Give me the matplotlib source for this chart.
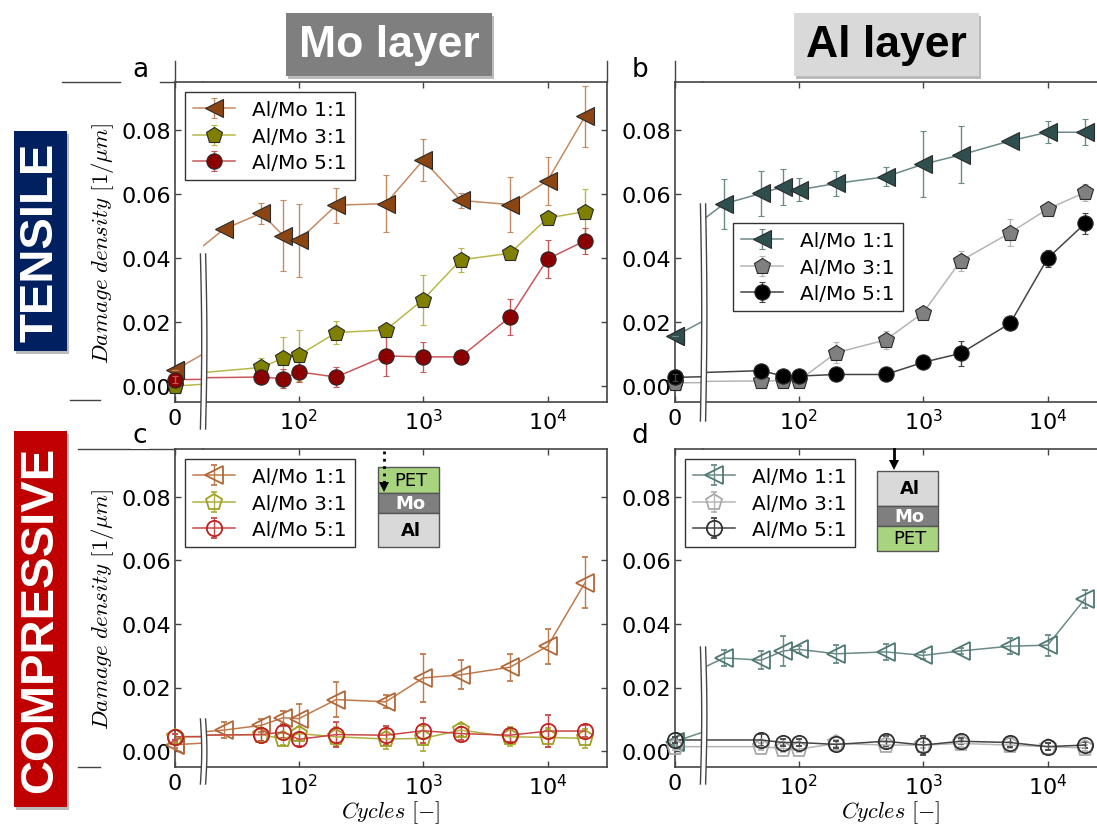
import numpy as np
import matplotlib.pyplot as plt
from matplotlib.patches import Rectangle, Polygon
from matplotlib.lines import Line2D
from matplotlib.ticker import NullLocator, FixedLocator, FixedFormatter

W, H = 1097, 828

# cycle counts (0 = as deposited); 3:1 and 5:1 have no 25-cycle point
cyc_11 = np.array([0, 25, 50, 75, 100, 200, 500, 1000, 2000, 5000, 10000, 20000])
cyc_xx = np.array([0, 50, 75, 100, 200, 500, 1000, 2000, 5000, 10000, 20000])
labels = ['Al/Mo 1:1', 'Al/Mo 3:1', 'Al/Mo 5:1']

# a) Mo layer, tensile
mo_ten_11 = [0.005, 0.049, 0.054, 0.047, 0.0455, 0.0565, 0.057, 0.0706, 0.058, 0.0567, 0.0642, 0.0843]
mo_ten_11_err = [0.0, 0.0, 0.0033, 0.011, 0.0115, 0.0055, 0.009, 0.0065, 0.0023, 0.0087, 0.0075, 0.0096]
mo_ten_31 = [0.0, 0.0058, 0.0087, 0.0096, 0.0167, 0.0175, 0.027, 0.0394, 0.0415, 0.0525, 0.0545]
mo_ten_31_err = [0.0, 0.003, 0.0066, 0.008, 0.0037, 0.002, 0.0078, 0.0037, 0.001, 0.002, 0.007]
mo_ten_51 = [0.002, 0.0028, 0.0023, 0.0044, 0.0028, 0.0094, 0.0091, 0.0091, 0.0216, 0.0397, 0.0454]
mo_ten_51_err = [0.001, 0.002, 0.003, 0.003, 0.003, 0.0063, 0.0047, 0.0015, 0.0056, 0.006, 0.004]

# b) Al layer, tensile
al_ten_11 = [0.0156, 0.0569, 0.0602, 0.0623, 0.0613, 0.0633, 0.0654, 0.0693, 0.0722, 0.0766, 0.0793, 0.0793]
al_ten_11_err = [0.0, 0.0079, 0.0071, 0.0056, 0.0036, 0.0039, 0.0029, 0.0103, 0.0089, 0.001, 0.0034, 0.0041]
al_ten_31 = [0.001, 0.0016, 0.0016, 0.0017, 0.0104, 0.0144, 0.0229, 0.0391, 0.0479, 0.0553, 0.0605]
al_ten_31_err = [0.0, 0.001, 0.001, 0.001, 0.0032, 0.0027, 0.001, 0.0032, 0.0042, 0.001, 0.0027]
al_ten_51 = [0.0027, 0.0048, 0.0031, 0.0031, 0.0036, 0.0036, 0.0074, 0.0102, 0.0196, 0.0399, 0.0508]
al_ten_51_err = [0.001, 0.001, 0.001, 0.001, 0.001, 0.001, 0.001, 0.0039, 0.001, 0.0026, 0.0033]

# c) Mo layer, compressive
mo_com_11 = [0.002, 0.0066, 0.0081, 0.0105, 0.0102, 0.0162, 0.0155, 0.023, 0.024, 0.0264, 0.033, 0.053]
mo_com_11_err = [0.001, 0.0026, 0.002, 0.002, 0.0046, 0.0054, 0.002, 0.0075, 0.0045, 0.0042, 0.0055, 0.008]
mo_com_31 = [0.0045, 0.0052, 0.0038, 0.0055, 0.0045, 0.0038, 0.004, 0.0066, 0.0045, 0.0043, 0.004]
mo_com_31_err = [0.001, 0.002, 0.002, 0.002, 0.003, 0.003, 0.004, 0.002, 0.003, 0.003, 0.003]
mo_com_51 = [0.0045, 0.0052, 0.006, 0.0037, 0.0052, 0.005, 0.0064, 0.0055, 0.005, 0.0063, 0.0063]
mo_com_51_err = [0.001, 0.002, 0.002, 0.002, 0.004, 0.003, 0.004, 0.002, 0.002, 0.005, 0.002]

# d) Al layer, compressive
al_com_11 = [0.003, 0.0293, 0.0286, 0.0315, 0.032, 0.0306, 0.0312, 0.0301, 0.0315, 0.033, 0.0333, 0.0479]
al_com_11_err = [0.001, 0.0025, 0.0028, 0.0047, 0.001, 0.0028, 0.0025, 0.001, 0.001, 0.0026, 0.0033, 0.0028]
al_com_31 = [0.0014, 0.0014, 0.0008, 0.0006, 0.0024, 0.0019, 0.0019, 0.0024, 0.0019, 0.0014, 0.001]
al_com_31_err = [0.001, 0.001, 0.001, 0.001, 0.001, 0.001, 0.001, 0.001, 0.001, 0.001, 0.001]
al_com_51 = [0.0035, 0.0035, 0.0027, 0.0027, 0.0021, 0.0031, 0.0019, 0.0031, 0.0027, 0.0014, 0.0019]
al_com_51_err = [0.001, 0.002, 0.001, 0.001, 0.001, 0.0015, 0.003, 0.001, 0.0015, 0.001, 0.001]

plt.rcParams['font.family'] = 'DejaVu Sans'
plt.rcParams['mathtext.fontset'] = 'dejavusans'

fig = plt.figure(figsize=(W / 100, H / 100), dpi=100)
fig.patch.set_facecolor('white')

BANNER_FONT = ['Liberation Sans Narrow', 'Liberation Sans']
SPINE = '#444444'


def X(x):
    return x / W


def Y(y):
    return 1 - y / H


def px_box(x0, y0, x1, y1):
    return [x0 / W, 1 - y1 / H, (x1 - x0) / W, (y1 - y0) / H]


def fig_line(xs, ys, **kw):
    fig.add_artist(Line2D([X(v) for v in xs], [Y(v) for v in ys],
                          transform=fig.transFigure, **kw))


def fig_rect(x0, y0, x1, y1, **kw):
    fig.add_artist(Rectangle((X(x0), Y(y1)), (x1 - x0) / W, (y1 - y0) / H,
                             transform=fig.transFigure, **kw))


def unclip(cont, z):
    for art in cont.get_children():
        art.set_clip_on(False)
        art.set_zorder(z)


def draw_panel(geom, series, legend_xy, brk, hollow, ylabel=False, xlabel=False):
    x0, xb, x1, yt, yb = geom
    axl = fig.add_axes(px_box(x0, yt, xb, yb))
    axr = fig.add_axes(px_box(xb, yt, x1, yb))
    for ax in (axl, axr):
        ax.set_xscale('log')
        ax.set_ylim(-0.005, 0.095)
        ax.xaxis.set_minor_locator(NullLocator())
        ax.yaxis.set_major_locator(FixedLocator([0, 0.02, 0.04, 0.06, 0.08]))
        ax.tick_params(direction='in', length=4, width=1, color=SPINE,
                       labelsize=16, top=True, bottom=True)
        ax.tick_params(axis='x', pad=4)
        for sp in ax.spines.values():
            sp.set_color(SPINE)
            sp.set_linewidth(1.2)
    axl.set_xlim(1, 1.44)
    axr.set_xlim(17, 3e4)
    axl.spines['right'].set_visible(False)
    axr.spines['left'].set_visible(False)
    axl.xaxis.set_major_locator(FixedLocator([1]))
    axl.xaxis.set_major_formatter(FixedFormatter(['0']))
    axl.yaxis.set_major_formatter(plt.FormatStrFormatter('%.2f'))
    axl.tick_params(axis='y', left=True, right=False, pad=3)
    axr.xaxis.set_major_locator(FixedLocator([1e2, 1e3, 1e4]))
    axr.tick_params(axis='y', left=False, right=True, labelleft=False)

    handles = []
    for xs, ys, es, marker, ms, face, line in series:
        xp = np.where(xs == 0, 1, xs)
        ys = np.asarray(ys)
        es = np.asarray(es)
        if hollow:
            mkw = dict(mfc='none', mec=face, mew=1.3)
        else:
            mkw = dict(mfc=face, mec='#2a2a2a', mew=0.8)
        kw = dict(fmt='-', marker=marker, ms=ms, color=line, ecolor=line,
                  elinewidth=1, capsize=2.5, capthick=1, lw=1.1, **mkw)
        h = axr.errorbar(xp, ys, yerr=es, **kw)
        axl.errorbar(xp, ys, yerr=es, **kw)
        first = axl.errorbar(xp[:1], ys[:1], yerr=es[:1], **kw)
        unclip(first, 4)
        handles.append(h)

    lx, ly = legend_xy
    leg = axr.legend(handles, labels, loc='upper left', bbox_to_anchor=(X(lx), Y(ly)),
                     bbox_transform=fig.transFigure, borderaxespad=0, numpoints=1,
                     fontsize=14.5, handlelength=2.1, handletextpad=0.85,
                     borderpad=0.4, labelspacing=0.38, fancybox=False, framealpha=1)
    leg.get_frame().set_edgecolor('#333333')
    leg.get_frame().set_linewidth(1)

    # axis break mark: white band with two wavy lines
    top, bot = brk
    t = np.linspace(0, 1, 40)
    yy = top + (bot - top) * t
    bend = 1.3 * np.sin(np.pi * t)
    xa = xb - 2.6 + bend
    xc = xb + 2.6 + bend
    band = np.column_stack([np.r_[X(xa), X(xc[::-1])], np.r_[Y(yy), Y(yy[::-1])]])
    fig.add_artist(Polygon(band, closed=True, transform=fig.transFigure,
                           facecolor='white', edgecolor='none', zorder=5))
    fig_line(xa, yy, color=SPINE, lw=1, zorder=6)
    fig_line(xc, yy, color=SPINE, lw=1, zorder=6)

    if ylabel:
        fig.text(X(103), Y((yt + yb) / 2), r'$Damage\ density\ [1/\mu m]$',
                 rotation=90, ha='center', va='center', fontsize=16.5,
                 math_fontfamily='cm')
    if xlabel:
        fig.text(X((x0 + x1) / 2), Y(813), r'$Cycles\ [-]$', ha='center',
                 va='center', fontsize=16, math_fontfamily='cm')
    return axl, axr


# leftover frame lines from the original composite
for xs, ys in [((62, 120), (83, 83)), ((160, 175), (83, 83)), ((175, 175), (62, 83)),
               ((607, 607), (62, 83)), ((675, 675), (62, 83)), ((70, 100), (401, 401)),
               ((78, 175), (450, 450)), ((78, 100), (768, 768))]:
    fig_line(xs, ys, color=SPINE, lw=1)

draw_panel((175, 203, 607, 83, 403),
           [(cyc_11, mo_ten_11, mo_ten_11_err, '<', 13, '#8B4513', '#c48a62'),
            (cyc_xx, mo_ten_31, mo_ten_31_err, 'p', 12, '#808000', '#b8b84a'),
            (cyc_xx, mo_ten_51, mo_ten_51_err, 'o', 11, '#8B0000', '#c9575a')],
           (185, 93), (255, 430), hollow=False, ylabel=True)

draw_panel((675, 703, 1107, 83, 403),
           [(cyc_11, al_ten_11, al_ten_11_err, '<', 13, '#2F4F4F', '#6a8a88'),
            (cyc_xx, al_ten_31, al_ten_31_err, 'p', 12, '#808080', '#b5b5b5'),
            (cyc_xx, al_ten_51, al_ten_51_err, 'o', 11, '#000000', '#444444')],
           (733, 224), (205, 422), hollow=False)

draw_panel((175, 203, 607, 450, 768),
           [(cyc_11, mo_com_11, mo_com_11_err, '<', 13, '#b0683a', '#c07a4c'),
            (cyc_xx, mo_com_31, mo_com_31_err, 'p', 12, '#a0a020', '#b0b040'),
            (cyc_xx, mo_com_51, mo_com_51_err, 'o', 11, '#c02020', '#c84848')],
           (185, 460), (720, 785), hollow=True, ylabel=True, xlabel=True)

draw_panel((675, 703, 1107, 450, 768),
           [(cyc_11, al_com_11, al_com_11_err, '<', 13, '#4f7873', '#6a8a88'),
            (cyc_xx, al_com_31, al_com_31_err, 'p', 12, '#aaaaaa', '#b5b5b5'),
            (cyc_xx, al_com_51, al_com_51_err, 'o', 11, '#303030', '#444444')],
           (685, 460), (648, 785), hollow=True, xlabel=True)

# panel letters
for txt, x, y in [('a', 140, 70), ('b', 640, 70), ('c', 140, 436), ('d', 640, 436)]:
    fig.text(X(x), Y(y), txt, ha='center', va='center', fontsize=19,
             bbox=dict(facecolor='white', edgecolor='none', pad=1))

# column headers and row banners
banners = [((286, 14, 492, 77), '#7f7f7f', 'Mo layer', 'white', 0, 32),
           ((794, 14, 979, 77), '#d9d9d9', 'Al layer', 'black', 0, 32),
           ((14, 132, 67, 352), '#002060', 'TENSILE', 'white', 90, 34),
           ((14, 432, 67, 808), '#c00000', 'COMPRESSIVE', 'white', 90, 34)]
for (bx0, by0, bx1, by1), fc, txt, tc, rot, fs in banners:
    fig_rect(bx0 + 2, by0 + 3, bx1 + 2, by1 + 3, facecolor='#bbbbbb', edgecolor='none', zorder=7)
    fig_rect(bx0, by0, bx1, by1, facecolor=fc, edgecolor='none', zorder=8)
    fig.text(X((bx0 + bx1) / 2), Y((by0 + by1) / 2), txt, color=tc, rotation=rot,
             ha='center', va='center', fontsize=fs, fontweight='bold',
             family=BANNER_FONT, zorder=9)

# layer stack sketches
PET_GREEN = '#a9d47f'
stack_c = [((378, 468, 439, 494), PET_GREEN, 'PET', 'black', 'normal'),
           ((378, 494, 439, 514), '#7f7f7f', 'Mo', 'white', 'bold'),
           ((378, 514, 439, 548), '#d9d9d9', 'Al', 'black', 'bold')]
stack_d = [((877, 472, 938, 507), '#d9d9d9', 'Al', 'black', 'bold'),
           ((877, 507, 938, 527), '#7f7f7f', 'Mo', 'white', 'bold'),
           ((877, 527, 938, 552), PET_GREEN, 'PET', 'black', 'normal')]
for (sx0, sy0, sx1, sy1), fc, txt, tc, fw in stack_c + stack_d:
    fig_rect(sx0, sy0, sx1, sy1, facecolor=fc, edgecolor='#555555', lw=1, zorder=7)
    fig.text(X((sx0 + sx1) / 2 + 2), Y((sy0 + sy1) / 2), txt, color=tc, fontweight=fw,
             ha='center', va='center', fontsize=13, zorder=8)

# bending direction arrows
fig_line((384, 384), (452, 484), color='black', lw=2, ls=':', zorder=9)
fig.add_artist(Polygon([(X(379), Y(483)), (X(389), Y(483)), (X(384), Y(493))],
                       transform=fig.transFigure, facecolor='black', zorder=9))
fig_line((894, 894), (450, 462), color='black', lw=2, zorder=9)
fig.add_artist(Polygon([(X(889), Y(461)), (X(899), Y(461)), (X(894), Y(471))],
                       transform=fig.transFigure, facecolor='black', zorder=9))

fig.savefig('out.png', dpi=100)
